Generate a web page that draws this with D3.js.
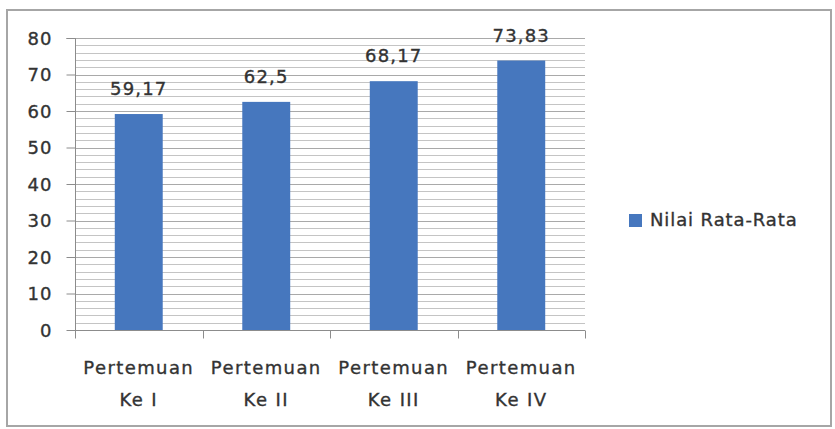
<!DOCTYPE html>
<html><head><meta charset="utf-8">
<script src="https://cdn.jsdelivr.net/npm/d3@7"></script>
<style>
html,body{margin:0;padding:0;background:#fff;}
text{font-family:"DejaVu Sans",sans-serif;fill:#333;stroke:#333;stroke-width:0.35px;}
</style></head>
<body>
<svg id="chart" width="835" height="429"></svg>
<script>
const categories = [["Pertemuan","Ke I"],["Pertemuan","Ke II"],["Pertemuan","Ke III"],["Pertemuan","Ke IV"]];
const values = [59.17, 62.5, 68.17, 73.83];
const valueLabels = ["59,17","62,5","68,17","73,83"];
const yTicks = [0,10,20,30,40,50,60,70,80];
const seriesName = "Nilai Rata-Rata";

(function(){
const svg = d3.select("#chart");
const pL = 75, pR = 585, pT = 38, pB = 330;

svg.append("rect").attr("x",7).attr("y",10).attr("width",824).attr("height",416)
  .attr("fill","#fff").attr("stroke","#a6a6a6").attr("stroke-width",2);

const keys = categories.map((c,i)=>i);
const x = d3.scaleBand().domain(keys).range([pL,pR]).padding(0);
const y = d3.scaleLinear().domain([0,80]).range([pB,pT]);

// minor gridlines every 2
const grid = d3.range(0,82,2);
svg.append("g").selectAll("line").data(grid).join("line")
  .attr("x1",pL).attr("x2",pR)
  .attr("y1",d=>Math.round(y(d))+0.5).attr("y2",d=>Math.round(y(d))+0.5)
  .attr("stroke",d=> d%10===0 ? "#a9a9a9" : "#c4c4c4").attr("stroke-width",1);

// bars
const bw = x.bandwidth()*0.376;
svg.append("g").selectAll("rect").data(values).join("rect")
  .attr("x",(d,i)=>x(i)+x.bandwidth()/2-bw/2)
  .attr("width",bw)
  .attr("y",d=>y(d))
  .attr("height",d=>y(0)-y(d))
  .attr("fill","#4677be");

// value labels
svg.append("g").selectAll("text").data(values).join("text")
  .attr("x",(d,i)=>x(i)+x.bandwidth()/2)
  .attr("y",d=>y(d)-19)
  .attr("text-anchor","middle")
  .attr("font-size",18).attr("letter-spacing",1.2)
  .text((d,i)=>valueLabels[i]);

// y axis
const yAxis = d3.axisLeft(y).tickValues(yTicks).tickSize(9).tickPadding(14).tickFormat(d3.format("d"));
const ya = svg.append("g").attr("transform",`translate(${pL+0.5},0)`).call(yAxis);
ya.select(".domain").attr("stroke","#8c8c8c").attr("d",`M-9,${pT+0.5}H0V${pB+0.5}`);
ya.selectAll(".tick line").attr("stroke","#8c8c8c");
ya.selectAll(".tick text").attr("font-size",18).attr("letter-spacing",1).attr("fill","#333").attr("font-family","DejaVu Sans").attr("dy","0.36em");

// x axis
const xa = svg.append("g").attr("transform",`translate(0,${pB+0.5})`);
xa.append("line").attr("x1",pL).attr("x2",pR).attr("stroke","#8c8c8c");
const bounds = [pL, ...keys.map(k=>x(k)+x.bandwidth())];
xa.selectAll("line.t").data(bounds).join("line").attr("class","t")
  .attr("x1",d=>Math.round(d)+0.5).attr("x2",d=>Math.round(d)+0.5).attr("y1",0).attr("y2",8)
  .attr("stroke","#8c8c8c");
const xl = svg.append("g").selectAll("text").data(categories).join("text")
  .attr("text-anchor","middle").attr("font-size",18).attr("letter-spacing",1.4)
  .attr("x",(d,i)=>x(i)+x.bandwidth()/2);
xl.each(function(d){
  const t = d3.select(this);
  t.append("tspan").attr("x",t.attr("x")).attr("y",374).text(d[0]);
  t.append("tspan").attr("x",t.attr("x")).attr("y",406).text(d[1]);
});

// legend
const lg = svg.append("g");
lg.append("rect").attr("x",629).attr("y",214).attr("width",13).attr("height",13).attr("fill","#4677be");
lg.append("text").attr("x",650).attr("y",226).attr("font-size",18).attr("letter-spacing",0.9).text(seriesName);
})();
</script>
</body></html>
